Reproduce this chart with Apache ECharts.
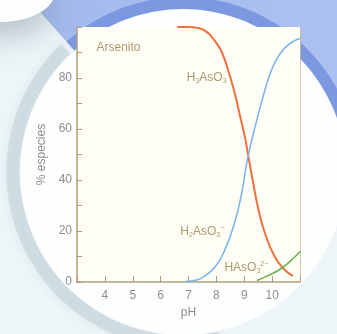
<!DOCTYPE html>
<html>
<head>
<meta charset="utf-8">
<script src="https://cdn.jsdelivr.net/npm/echarts@6/dist/echarts.min.js"></script>
<style>html,body{margin:0;padding:0;background:#eef5f9;}#c{width:337px;height:334px;}</style>
</head>
<body>
<div id="c"></div>
<script>
// Data (pH, % species)
var h3aso3 = [[6.6,100],[7.0,100],[7.34,99.6],[7.6,98.5],[7.84,96],[8.03,93.2],[8.2,90],[8.41,83.5],[8.66,74],[8.84,65.5],[9.02,57],[9.12,51],[9.31,39.5],[9.49,29.4],[9.74,19.2],[10.1,9.8],[10.46,4.7],[10.74,2.4]];
var h2aso3 = [[6.87,0.2],[7.2,0.6],[7.48,1.6],[7.95,5.9],[8.3,12.5],[8.66,23.5],[8.91,35],[9.12,48.5],[9.45,63.5],[9.67,72.5],[9.92,81.5],[10.17,87.5],[10.46,91.8],[10.75,94.3],[11,95.5]];
var haso3 = [[9.45,0.6],[9.85,2.5],[10.35,5.5],[10.81,9.8],[11,12]];
var xTickLabels = [4,5,6,7,8,9,10];
var yTickLabels = [0,20,40,60,80];
var labels = {
  arsenito: [3.68, 91.8],
  h3: [6.92, 80],
  h2: [6.69, 19.6],
  h1: [8.27, 5.5]
};

var chart = echarts.init(document.getElementById('c'), null, {renderer:'canvas'});
var txt = '#ad9a6e';
var axisC = '#b59b7a';
var tickC = '#8c8c94';
var rich = {
  a:{fontSize:12,color:txt,fontFamily:'Liberation Sans, Arial'},
  s:{fontSize:7,color:txt,padding:[6,0,0,0],fontFamily:'Liberation Sans, Arial'},
  p:{fontSize:7,color:txt,padding:[0,0,7,0],fontFamily:'Liberation Sans, Arial'}
};
function mp(coord, text){
  return {coord:coord, symbol:'circle', symbolSize:1, itemStyle:{color:'rgba(0,0,0,0)'},
    label:{show:true, position:'right', distance:0, formatter:text, rich:rich}};
}
var cx=183, cy=172;
chart.setOption({
  backgroundColor:'#eef5f9',
  animation:false,
  graphic:[
    {type:'sector', z:-20, silent:true, shape:{cx:cx,cy:cy,r0:160,r:420,startAngle:-2.3,endAngle:0.0},
      style:{fill:{type:'linear',x:0,y:1,x2:1,y2:0,colorStops:[{offset:0,color:'#9ab3ec'},{offset:1,color:'#bccdf3'}]}}},
    {type:'arc', z:-19, silent:true, shape:{cx:cx,cy:cy,r:169,startAngle:-2.3,endAngle:0.15},
      style:{stroke:'#7c98e0',lineWidth:12,fill:null}},
    {type:'arc', z:-19, silent:true, shape:{cx:cx,cy:cy,r:170,startAngle:1.35,endAngle:3.95},
      style:{stroke:'rgba(200,213,221,0.7)',lineWidth:13,fill:null,shadowBlur:8,shadowColor:'rgba(200,213,221,0.7)'}},
    {type:'circle', z:-18, silent:true, shape:{cx:cx,cy:cy,r:163}, style:{fill:'#fdfefe'}},
    {type:'ellipse', z:-16, silent:true, shape:{cx:0,cy:-8,rx:55,ry:30},
      style:{fill:'#fbfdfe',shadowBlur:30,shadowOffsetY:16,shadowColor:'rgba(120,135,150,0.45)'}}
  ],
  grid:{left:77,right:37,top:27,bottom:52,show:true,backgroundColor:'#fffef6',borderWidth:0},
  xAxis:[{
    type:'value', min:3, max:11, interval:1, position:'bottom',
    name:'pH', nameLocation:'middle', nameGap:25,
    nameTextStyle:{color:tickC,fontSize:12,fontFamily:'Liberation Sans, Arial'},
    axisLine:{show:true,lineStyle:{color:axisC,width:1.5}},
    axisTick:{show:true,inside:true,length:6,lineStyle:{color:axisC}},
    axisLabel:{color:tickC,fontSize:12,margin:8,fontFamily:'Liberation Sans, Arial',
      formatter:function(v){return xTickLabels.indexOf(v)>=0 ? String(v) : '';}},
    splitLine:{show:false}
  },{
    type:'value', min:3, max:11, position:'top',
    axisLine:{show:true,lineStyle:{color:'#c9b79a',type:'dotted',width:1}},
    axisTick:{show:false}, axisLabel:{show:false}, splitLine:{show:false}
  }],
  yAxis:[{
    type:'value', min:0, max:100, interval:10, position:'left',
    name:'% especies', nameLocation:'middle', nameGap:28, nameRotate:90,
    nameTextStyle:{color:tickC,fontSize:12,fontFamily:'Liberation Sans, Arial'},
    axisLine:{show:true,lineStyle:{color:axisC,width:1.5}},
    axisTick:{show:true,inside:true,length:5,lineStyle:{color:axisC}},
    axisLabel:{color:tickC,fontSize:12,margin:5,fontFamily:'Liberation Sans, Arial',
      formatter:function(v){return yTickLabels.indexOf(v)>=0 ? String(v) : '';}},
    splitLine:{show:false}
  },{
    type:'value', min:0, max:100, position:'right',
    axisLine:{show:true,lineStyle:{color:'#c9b79a',type:'dotted',width:1}},
    axisTick:{show:false}, axisLabel:{show:false}, splitLine:{show:false}
  }],
  series:[
    {type:'line', name:'H3AsO3', data:h3aso3, smooth:0.5, symbol:'none', clip:true,
      lineStyle:{color:'#f0703e',width:2},
      markPoint:{data:[mp(labels.arsenito,'{a|Arsenito}'), mp(labels.h3,'{a|H}{s|3}{a|AsO}{s|3}')]}},
    {type:'line', name:'H2AsO3-', data:h2aso3, smooth:0.5, symbol:'none', clip:true,
      lineStyle:{color:'#7db6ee',width:1.6},
      markPoint:{data:[mp(labels.h2,'{a|H}{s|2}{a|AsO}{s|3}{p|−}')]}},
    {type:'line', name:'HAsO3 2-', data:haso3, smooth:0.5, symbol:'none', clip:true,
      lineStyle:{color:'#6cb04c',width:1.6},
      markPoint:{data:[mp(labels.h1,'{a|HAsO}{s|3}{p|2−}')]}}
  ]
});
</script>
</body>
</html>
